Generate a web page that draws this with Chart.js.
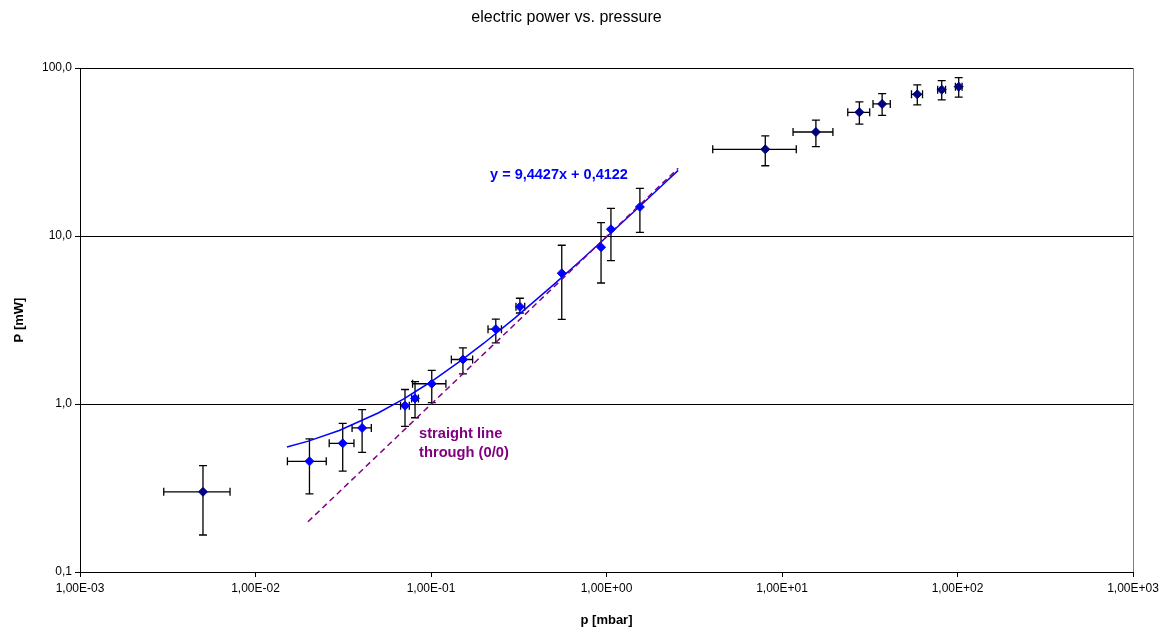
<!DOCTYPE html>
<html>
<head>
<meta charset="utf-8">
<script src="https://cdn.jsdelivr.net/npm/chart.js@4.4.0/dist/chart.umd.min.js"></script>
<style>
  html, body { margin: 0; padding: 0; background: #fff; }
  #wrap { width: 1176px; height: 629px; }
</style>
</head>
<body>
<div id="wrap"><canvas id="myChart" width="1176" height="629"></canvas></div>
<script>
// measured points, p in mbar, P in mW
const pressure = [0.00502, 0.0203, 0.0314, 0.0405, 0.0711, 0.0811, 0.101, 0.152, 0.234, 0.321, 0.556, 0.931, 1.06, 1.55, 8.03, 15.6, 27.6, 37.2, 59.0, 81.3, 101.6];
const power    = [0.30, 0.456, 0.583, 0.72, 0.977, 1.08, 1.32, 1.84, 2.79, 3.79, 6.0, 8.57, 10.97, 14.9, 32.8, 41.6, 54.5, 61.1, 69.7, 74.3, 77.4];
// error ranges
const pressureLow  = [0.0030, 0.0152, 0.0263, 0.0355, 0.0671, 0.0776, 0.0785, 0.1306, 0.2113, 0.305, 0.545, 0.912, 1.04, 1.52, 4.03, 11.56, 23.7, 33.0, 54.7, 77.1, 97.3];
const pressureHigh = [0.00716, 0.0253, 0.0364, 0.0457, 0.0752, 0.0848, 0.1216, 0.1727, 0.252, 0.342, 0.567, 0.95, 1.08, 1.58, 12.06, 19.5, 31.6, 41.4, 63.2, 85.5, 106.2];
const powerLow  = [0.166, 0.292, 0.399, 0.515, 0.736, 0.828, 1.02, 1.51, 2.31, 3.48, 3.19, 5.25, 7.13, 10.5, 26.2, 34.0, 46.3, 52.2, 60.3, 64.6, 67.1];
const powerHigh = [0.43, 0.62, 0.767, 0.925, 1.22, 1.36, 1.585, 2.16, 3.2, 4.26, 8.81, 12.0, 14.6, 19.2, 39.4, 48.9, 62.8, 70.3, 79.4, 84.1, 87.7];
// 1 = point used for the linear fit (drawn in bright blue)
const inFit = [0, 1, 1, 1, 1, 1, 1, 1, 1, 1, 1, 1, 1, 1, 0, 0, 0, 0, 0, 0, 0];

// trend line y = 9,4427x + 0,4122
const fitX = [0.0151, 0.02, 0.03, 0.05, 0.07, 0.1, 0.15, 0.2, 0.3, 0.5, 0.7, 1, 1.5, 2, 2.56];
const fitY = [0.5548, 0.601, 0.6955, 0.8843, 1.0732, 1.3565, 1.8286, 2.3007, 3.245, 5.1336, 7.0221, 9.8549, 14.576, 19.30, 24.59];
// straight line through (0/0)
const originX = [0.0199, 2.56];
const originY = [0.199, 25.3];

const xTicks = [1e-3, 1e-2, 1e-1, 1, 10, 100, 1000];
const yTicks = [0.1, 1, 10, 100];

function toPts(xs, ys) {
    return xs.map(function(x, i) { return { x: x, y: ys[i] }; });
}

function formatExp(v) {
    const e = Math.round(Math.log10(v));
    const sign = e < 0 ? '-' : '+';
    return '1,00E' + sign + String(Math.abs(e)).padStart(2, '0');
}

// draws the x and y error bars with caps
const errorBars = {
    id: 'errorBars',
    beforeDatasetsDraw(chart) {
        const ctx = chart.ctx;
        const xs = chart.scales.x, ys = chart.scales.y;
        const cap = 4;
        ctx.save();
        ctx.strokeStyle = '#000';
        ctx.lineWidth = 1.3;
        pressure.forEach(function(p, i) {
            const px = xs.getPixelForValue(p);
            const py = ys.getPixelForValue(power[i]);
            const x1 = xs.getPixelForValue(pressureLow[i]);
            const x2 = xs.getPixelForValue(pressureHigh[i]);
            const y1 = ys.getPixelForValue(powerLow[i]);
            const y2 = ys.getPixelForValue(powerHigh[i]);
            ctx.beginPath();
            ctx.moveTo(px, y1); ctx.lineTo(px, y2);
            ctx.moveTo(px - cap, y1); ctx.lineTo(px + cap, y1);
            ctx.moveTo(px - cap, y2); ctx.lineTo(px + cap, y2);
            if (x2 - x1 > 6) {
                ctx.moveTo(x1, py); ctx.lineTo(x2, py);
                ctx.moveTo(x1, py - cap); ctx.lineTo(x1, py + cap);
                ctx.moveTo(x2, py - cap); ctx.lineTo(x2, py + cap);
            }
            ctx.stroke();
        });
        ctx.restore();
    }
};

// plot frame and text labels
const extras = {
    id: 'extras',
    beforeDraw(chart) {
        const a = chart.chartArea;
        const ctx = chart.ctx;
        ctx.save();
        ctx.strokeStyle = '#808080';
        ctx.lineWidth = 1;
        ctx.strokeRect(a.left + 0.5, a.top + 0.5, a.right - a.left, a.bottom - a.top);
        ctx.restore();
    },
    afterDraw(chart) {
        const ctx = chart.ctx;
        const xs = chart.scales.x, ys = chart.scales.y;
        ctx.save();
        ctx.textAlign = 'left';
        ctx.textBaseline = 'alphabetic';
        ctx.fillStyle = '#0000ff';
        ctx.font = 'bold 14.5px "Liberation Sans", Arial, sans-serif';
        ctx.fillText('y = 9,4427x + 0,4122', xs.getPixelForValue(0.217), ys.getPixelForValue(21.8));
        ctx.fillStyle = '#800080';
        ctx.font = 'bold 14.7px "Liberation Sans", Arial, sans-serif';
        ctx.fillText('straight line', xs.getPixelForValue(0.0855), ys.getPixelForValue(0.628));
        ctx.fillText('through (0/0)', xs.getPixelForValue(0.0855), ys.getPixelForValue(0.484));
        ctx.restore();
    }
};

const ctx = document.getElementById('myChart').getContext('2d');
new Chart(ctx, {
    type: 'scatter',
    data: {
        datasets: [
            {
                label: 'measurement',
                data: toPts(pressure, power),
                pointStyle: 'rectRot',
                pointRadius: 4.5,
                pointHoverRadius: 4.5,
                backgroundColor: inFit.map(function(f) { return f ? '#0000ff' : '#000080'; }),
                borderColor: inFit.map(function(f) { return f ? '#0000ff' : '#000080'; }),
                borderWidth: 1,
                showLine: false,
                order: 0
            },
            {
                label: 'straight line through (0/0)',
                data: toPts(originX, originY),
                showLine: true,
                borderColor: '#800080',
                borderWidth: 1.5,
                borderDash: [6, 4],
                pointRadius: 0,
                order: 1
            },
            {
                label: 'linear fit',
                data: toPts(fitX, fitY),
                showLine: true,
                borderColor: '#0000ff',
                borderWidth: 1.5,
                pointRadius: 0,
                tension: 0,
                order: 2
            }
        ]
    },
    options: {
        responsive: false,
        animation: false,
        layout: { padding: { left: 0, right: 43, top: 0, bottom: 0 } },
        plugins: {
            legend: { display: false },
            tooltip: { enabled: false },
            title: {
                display: true,
                text: 'electric power vs. pressure',
                color: '#000',
                font: { family: '"Liberation Sans", Arial, sans-serif', size: 16, weight: 'normal' },
                padding: { top: 8, bottom: 40.8 }
            }
        },
        scales: {
            x: {
                type: 'logarithmic',
                min: 1e-3,
                max: 1e3,
                afterBuildTicks: function(scale) {
                    scale.ticks = xTicks.map(function(v) { return { value: v, major: true }; });
                },
                afterFit: function(scale) { scale.height = 57; },
                ticks: {
                    color: '#000',
                    font: { family: '"Liberation Sans", Arial, sans-serif', size: 12 },
                    maxRotation: 0,
                    autoSkip: false,
                    padding: 4,
                    callback: function(v) { return formatExp(v); }
                },
                grid: { drawOnChartArea: false, color: '#000', tickLength: 5 },
                border: { color: '#000' },
                title: {
                    display: true,
                    text: 'p [mbar]',
                    color: '#000',
                    font: { family: '"Liberation Sans", Arial, sans-serif', size: 13, weight: 'bold' },
                    padding: { top: 4, bottom: 1 }
                }
            },
            y: {
                type: 'logarithmic',
                min: 0.1,
                max: 100,
                afterBuildTicks: function(scale) {
                    scale.ticks = yTicks.map(function(v) { return { value: v, major: true }; });
                },
                afterFit: function(scale) { scale.width = 80; },
                ticks: {
                    color: '#000',
                    font: { family: '"Liberation Sans", Arial, sans-serif', size: 12 },
                    autoSkip: false,
                    padding: 3,
                    callback: function(v) { return Number(v).toFixed(1).replace('.', ','); }
                },
                grid: { color: '#000', tickLength: 5 },
                border: { color: '#000' },
                title: {
                    display: true,
                    text: 'P [mW]',
                    color: '#000',
                    font: { family: '"Liberation Sans", Arial, sans-serif', size: 13, weight: 'bold' },
                    padding: { top: 12, bottom: 0 }
                }
            }
        }
    },
    plugins: [errorBars, extras]
});
</script>
</body>
</html>
